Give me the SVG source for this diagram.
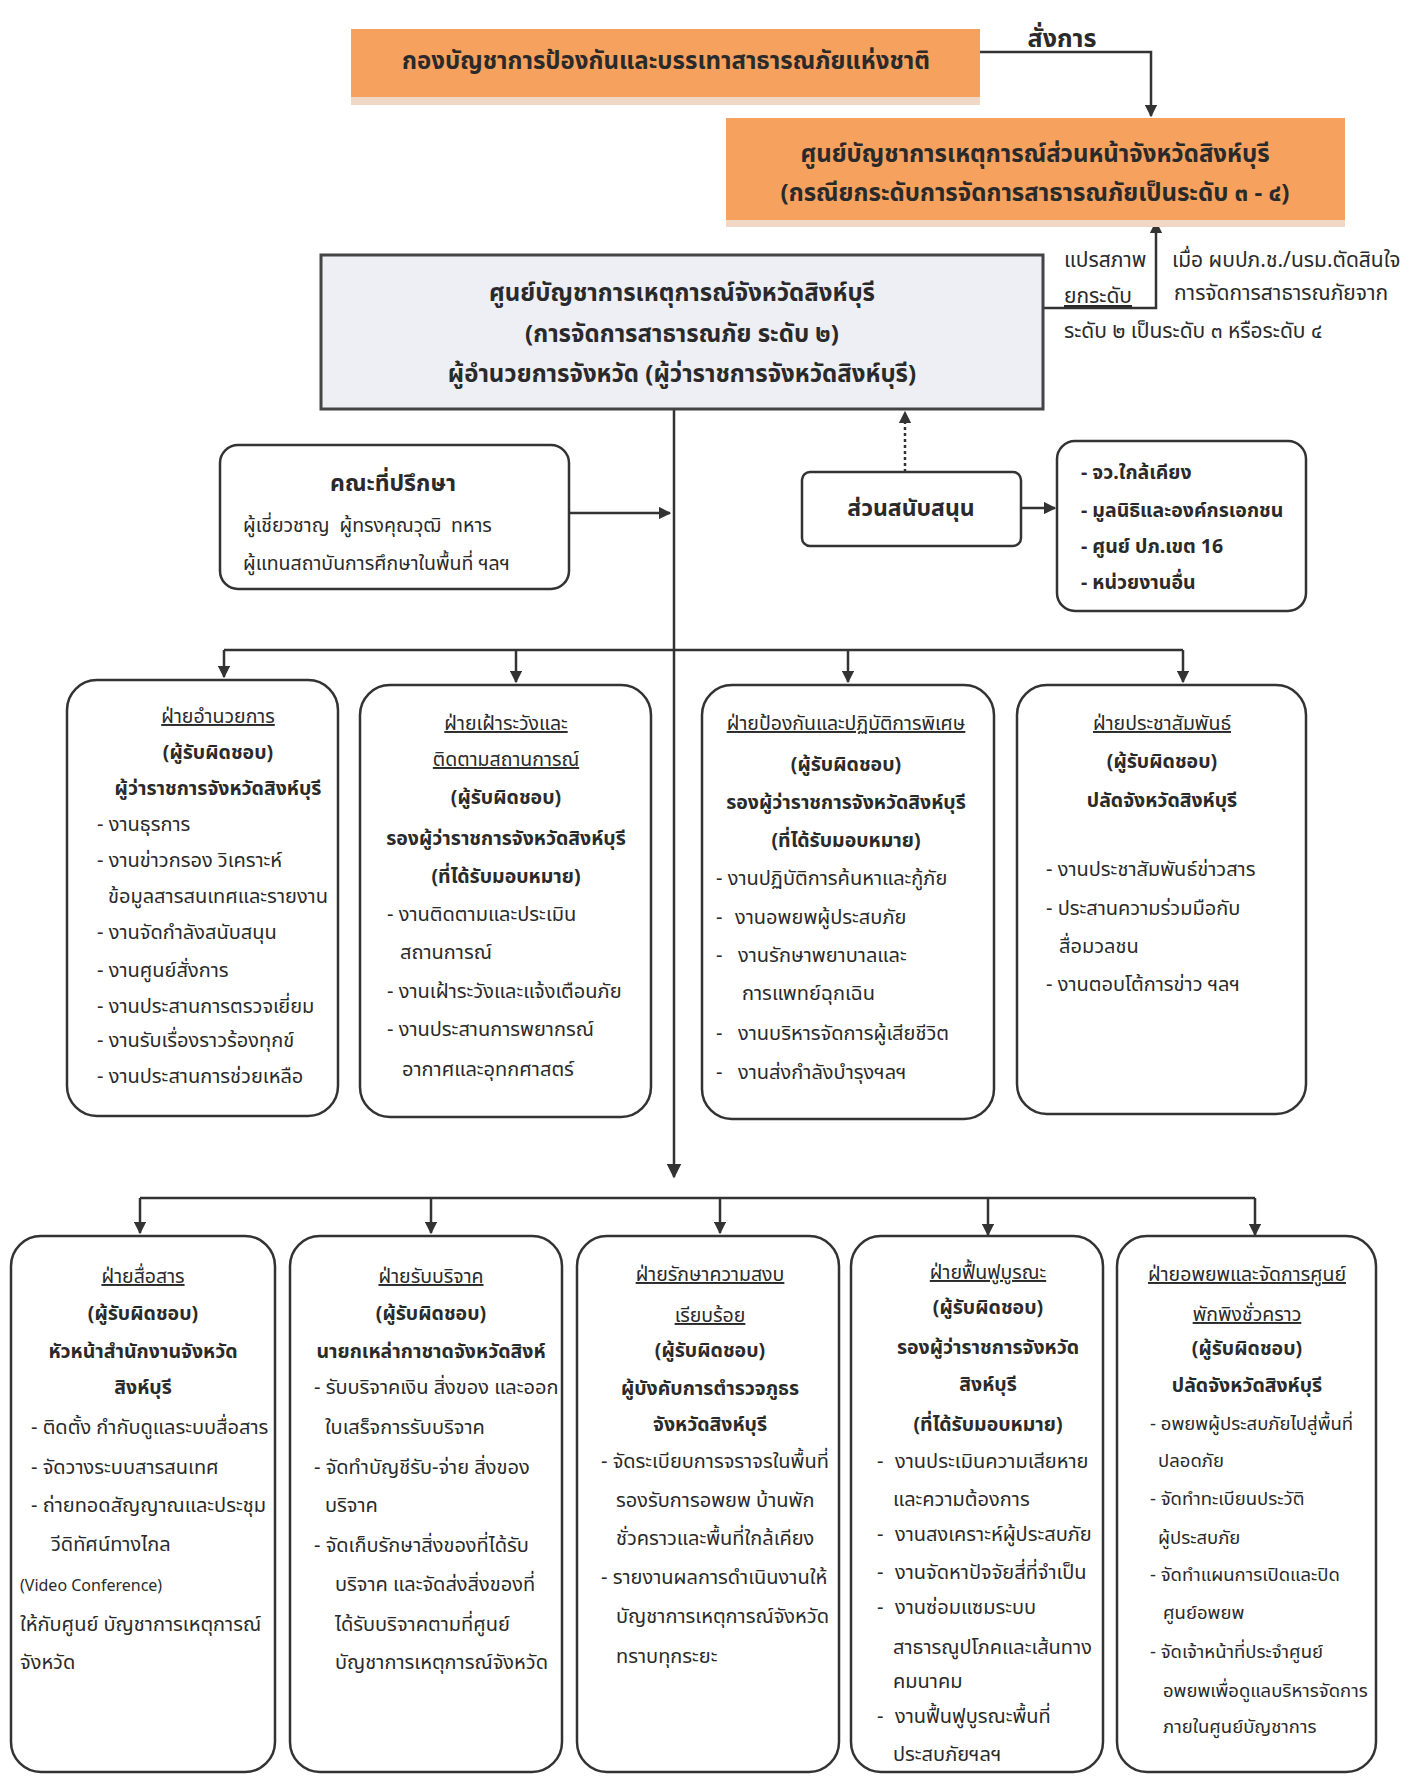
<svg xmlns="http://www.w3.org/2000/svg" width="1409" height="1778" viewBox="0 0 1409 1778">
<defs>
<style>
text{font-family:"Noto Sans Thai","Noto Sans","DejaVu Sans",sans-serif;fill:#2a2a2a;font-size:20px}
.c{text-anchor:middle}
.b{font-weight:bold;font-size:19.5px}
.u{text-decoration:underline;font-size:19.5px}
.h1{font-size:24px;font-weight:bold}
.h2{font-size:24px;font-weight:bold}
.lb{font-size:21px}
.s5{font-size:18.5px}
.pre{white-space:pre}
.box{fill:#fff;stroke:#333;stroke-width:2.5}
.or{fill:#f6a15e}
.sh{fill:#f1d8c6}
.ln{fill:none;stroke:#333;stroke-width:2.5}
</style>
<marker id="ah" viewBox="0 0 10 10" refX="9" refY="5" markerWidth="5" markerHeight="5" orient="auto"><path d="M0,0 L10,5 L0,10 z" fill="#333"/></marker>
<marker id="ahb" viewBox="0 0 10 10" refX="9" refY="5" markerWidth="6" markerHeight="6" orient="auto"><path d="M0,0 L10,5 L0,10 z" fill="#333"/></marker>
</defs>
<rect width="1409" height="1778" fill="#fff"/>

<g id="connectors">
<path class="ln" d="M980,52 H1151 V116" marker-end="url(#ah)"/>
<path class="ln" d="M1043,308 H1156 V222" marker-end="url(#ah)"/>
<path class="ln" d="M674,409 V1177" marker-end="url(#ahb)"/>
<path class="ln" d="M569,513 H670" marker-end="url(#ah)"/>
<path class="ln" d="M905,472 V412" stroke-dasharray="3,3" stroke-width="3" marker-end="url(#ah)"/>
<path class="ln" d="M1021,508 H1055" marker-end="url(#ah)"/>
<path class="ln" d="M224,650 H1183"/>
<path class="ln" d="M224,650 V677" marker-end="url(#ah)"/>
<path class="ln" d="M516,650 V682" marker-end="url(#ah)"/>
<path class="ln" d="M848,650 V682" marker-end="url(#ah)"/>
<path class="ln" d="M1183,650 V682" marker-end="url(#ah)"/>
<path class="ln" d="M140,1198 H1255"/>
<path class="ln" d="M140,1198 V1233" marker-end="url(#ah)"/>
<path class="ln" d="M431,1198 V1233" marker-end="url(#ah)"/>
<path class="ln" d="M720,1198 V1233" marker-end="url(#ah)"/>
<path class="ln" d="M988,1198 V1235" marker-end="url(#ah)"/>
<path class="ln" d="M1255,1198 V1235" marker-end="url(#ah)"/>
<text class="c" x="1062" y="47" style="font-size:25px;font-weight:bold">สั่งการ</text>
<text class="lb" x="1064" y="267">แปรสภาพ</text>
<text class="lb" x="1064" y="303" text-decoration="underline">ยกระดับ</text>
<text class="lb" x="1172" y="267">เมื่อ ผบปภ.ช./นรม.ตัดสินใจ</text>
<text class="lb" x="1174" y="300">การจัดการสาธารณภัยจาก</text>
<text class="lb" x="1064" y="338">ระดับ ๒ เป็นระดับ ๓ หรือระดับ ๔</text>
</g>

<g id="n-national">
<rect class="sh" x="351" y="95" width="629" height="10"/>
<rect class="or" x="351" y="29" width="629" height="68"/>
<text class="h1 c" x="666" y="69">กองบัญชาการป้องกันและบรรเทาสาธารณภัยแห่งชาติ</text>
</g>

<g id="n-forward">
<rect class="sh" x="726" y="218" width="619" height="9"/>
<rect class="or" x="726" y="118" width="619" height="102"/>
<text class="h1 c" x="1035" y="162">ศูนย์บัญชาการเหตุการณ์ส่วนหน้าจังหวัดสิงห์บุรี</text>
<text class="h1 c" x="1035" y="201">(กรณียกระดับการจัดการสาธารณภัยเป็นระดับ ๓ - ๔)</text>
</g>

<g id="n-main">
<rect x="321" y="255" width="722" height="154" fill="#eeeef5" stroke="#444" stroke-width="3"/>
<text class="h2 c" x="682" y="301">ศูนย์บัญชาการเหตุการณ์จังหวัดสิงห์บุรี</text>
<text class="h2 c" x="682" y="342">(การจัดการสาธารณภัย ระดับ ๒)</text>
<text class="h2 c" x="682" y="382">ผู้อำนวยการจังหวัด (ผู้ว่าราชการจังหวัดสิงห์บุรี)</text>
</g>

<g id="n-advisor">
<rect class="box" x="220" y="445" width="349" height="144" rx="18"/>
<text class="c" x="393" y="491" style="font-size:23px;font-weight:bold">คณะที่ปรึกษา</text>
<text class="pre" x="243" y="532" style="font-size:19.5px">ผู้เชี่ยวชาญ  ผู้ทรงคุณวุฒิ  ทหาร</text>
<text x="243" y="570" style="font-size:19.5px">ผู้แทนสถาบันการศึกษาในพื้นที่ ฯลฯ</text>
</g>

<g id="n-support">
<rect class="box" x="802" y="472" width="219" height="74" rx="8"/>
<text class="c" x="911" y="516" style="font-size:23px;font-weight:bold">ส่วนสนับสนุน</text>
</g>

<g id="n-support-list">
<rect class="box" x="1057" y="441" width="249" height="170" rx="18"/>
<text class="b" x="1081" y="479">- จว.ใกล้เคียง</text>
<text class="b" x="1081" y="517">- มูลนิธิและองค์กรเอกชน</text>
<text class="b" x="1081" y="553">- ศูนย์ ปภ.เขต 16</text>
<text class="b" x="1081" y="589">- หน่วยงานอื่น</text>
</g>

<g id="n-admin">
<rect class="box" x="67" y="680" width="271" height="436" rx="30"/>
<text class="c u" x="218" y="723">ฝ่ายอำนวยการ</text>
<text class="c b" x="218" y="759">(ผู้รับผิดชอบ)</text>
<text class="c b" x="218" y="795">ผู้ว่าราชการจังหวัดสิงห์บุรี</text>
<text x="97" y="831">- งานธุรการ</text>
<text x="97" y="867">- งานข่าวกรอง วิเคราะห์</text>
<text x="108" y="903">ข้อมูลสารสนเทศและรายงาน</text>
<text x="97" y="939">- งานจัดกำลังสนับสนุน</text>
<text x="97" y="977">- งานศูนย์สั่งการ</text>
<text x="97" y="1013">- งานประสานการตรวจเยี่ยม</text>
<text x="97" y="1047">- งานรับเรื่องราวร้องทุกข์</text>
<text x="97" y="1083">- งานประสานการช่วยเหลือ</text>
</g>

<g id="n-watch">
<rect class="box" x="360" y="685" width="291" height="432" rx="30"/>
<text class="c u" x="506" y="730">ฝ่ายเฝ้าระวังและ</text>
<text class="c u" x="506" y="766">ติดตามสถานการณ์</text>
<text class="c b" x="506" y="804">(ผู้รับผิดชอบ)</text>
<text class="c b" x="506" y="845">รองผู้ว่าราชการจังหวัดสิงห์บุรี</text>
<text class="c b" x="506" y="883">(ที่ได้รับมอบหมาย)</text>
<text x="387" y="921">- งานติดตามและประเมิน</text>
<text x="400" y="959">สถานการณ์</text>
<text x="387" y="998">- งานเฝ้าระวังและแจ้งเตือนภัย</text>
<text x="387" y="1036">- งานประสานการพยากรณ์</text>
<text x="402" y="1076">อากาศและอุทกศาสตร์</text>
</g>

<g id="n-protect">
<rect class="box" x="702" y="685" width="292" height="434" rx="30"/>
<text class="c u" x="846" y="730">ฝ่ายป้องกันและปฏิบัติการพิเศษ</text>
<text class="c b" x="846" y="771">(ผู้รับผิดชอบ)</text>
<text class="c b" x="846" y="809">รองผู้ว่าราชการจังหวัดสิงห์บุรี</text>
<text class="c b" x="846" y="847">(ที่ได้รับมอบหมาย)</text>
<text x="716" y="885">- งานปฏิบัติการค้นหาและกู้ภัย</text>
<text x="716" y="924">-</text><text x="735" y="924">งานอพยพผู้ประสบภัย</text>
<text x="716" y="962">-</text><text x="738" y="962">งานรักษาพยาบาลและ</text>
<text x="742" y="1000">การแพทย์ฉุกเฉิน</text>
<text x="716" y="1040">-</text><text x="738" y="1040">งานบริหารจัดการผู้เสียชีวิต</text>
<text x="716" y="1079">-</text><text x="738" y="1079">งานส่งกำลังบำรุงฯลฯ</text>
</g>

<g id="n-pr">
<rect class="box" x="1017" y="685" width="289" height="429" rx="30"/>
<text class="c u" x="1162" y="730">ฝ่ายประชาสัมพันธ์</text>
<text class="c b" x="1162" y="768">(ผู้รับผิดชอบ)</text>
<text class="c b" x="1162" y="807">ปลัดจังหวัดสิงห์บุรี</text>
<text x="1046" y="876">- งานประชาสัมพันธ์ข่าวสาร</text>
<text x="1046" y="915">- ประสานความร่วมมือกับ</text>
<text x="1059" y="953">สื่อมวลชน</text>
<text x="1046" y="991">- งานตอบโต้การข่าว ฯลฯ</text>
</g>

<g id="n-comm">
<rect class="box" x="11" y="1236" width="264" height="536" rx="30"/>
<text class="c u" x="143" y="1283">ฝ่ายสื่อสาร</text>
<text class="c b" x="143" y="1320">(ผู้รับผิดชอบ)</text>
<text class="c b" x="143" y="1358">หัวหน้าสำนักงานจังหวัด</text>
<text class="c b" x="143" y="1394">สิงห์บุรี</text>
<text x="31" y="1434">- ติดตั้ง กำกับดูแลระบบสื่อสาร</text>
<text x="31" y="1474">- จัดวางระบบสารสนเทศ</text>
<text x="31" y="1512">- ถ่ายทอดสัญญาณและประชุม</text>
<text x="51" y="1551">วีดิทัศน์ทางไกล</text>
<text x="20" y="1591" style="font-size:16px">(Video Conference)</text>
<text x="20" y="1631">ให้กับศูนย์ บัญชาการเหตุการณ์</text>
<text x="20" y="1669">จังหวัด</text>
</g>

<g id="n-donate">
<rect class="box" x="290" y="1236" width="272" height="536" rx="30"/>
<text class="c u" x="431" y="1283">ฝ่ายรับบริจาค</text>
<text class="c b" x="431" y="1320">(ผู้รับผิดชอบ)</text>
<text class="c b" x="431" y="1358">นายกเหล่ากาชาดจังหวัดสิงห์</text>
<text x="314" y="1394">- รับบริจาคเงิน สิ่งของ และออก</text>
<text x="325" y="1434">ใบเสร็จการรับบริจาค</text>
<text x="314" y="1474">- จัดทำบัญชีรับ-จ่าย สิ่งของ</text>
<text x="325" y="1512">บริจาค</text>
<text x="314" y="1552">- จัดเก็บรักษาสิ่งของที่ได้รับ</text>
<text x="335" y="1591">บริจาค และจัดส่งสิ่งของที่</text>
<text x="335" y="1631">ได้รับบริจาคตามที่ศูนย์</text>
<text x="335" y="1669">บัญชาการเหตุการณ์จังหวัด</text>
</g>

<g id="n-order">
<rect class="box" x="577" y="1236" width="262" height="536" rx="30"/>
<text class="c u" x="710" y="1281">ฝ่ายรักษาความสงบ</text>
<text class="c u" x="710" y="1322">เรียบร้อย</text>
<text class="c b" x="710" y="1357">(ผู้รับผิดชอบ)</text>
<text class="c b" x="710" y="1395">ผู้บังคับการตำรวจภูธร</text>
<text class="c b" x="710" y="1431">จังหวัดสิงห์บุรี</text>
<text x="601" y="1468">- จัดระเบียบการจราจรในพื้นที่</text>
<text x="616" y="1507">รองรับการอพยพ บ้านพัก</text>
<text x="616" y="1545">ชั่วคราวและพื้นที่ใกล้เคียง</text>
<text x="601" y="1584">- รายงานผลการดำเนินงานให้</text>
<text x="616" y="1623">บัญชาการเหตุการณ์จังหวัด</text>
<text x="616" y="1663">ทราบทุกระยะ</text>
</g>

<g id="n-restore">
<rect class="box" x="851" y="1236" width="252" height="536" rx="30"/>
<text class="c u" x="988" y="1279">ฝ่ายฟื้นฟูบูรณะ</text>
<text class="c b" x="988" y="1314">(ผู้รับผิดชอบ)</text>
<text class="c b" x="988" y="1354">รองผู้ว่าราชการจังหวัด</text>
<text class="c b" x="988" y="1391">สิงห์บุรี</text>
<text class="c b" x="988" y="1431">(ที่ได้รับมอบหมาย)</text>
<text x="877" y="1468">-</text><text x="895" y="1468">งานประเมินความเสียหาย</text>
<text x="893" y="1506">และความต้องการ</text>
<text x="877" y="1541">-</text><text x="895" y="1541">งานสงเคราะห์ผู้ประสบภัย</text>
<text x="877" y="1579">-</text><text x="895" y="1579">งานจัดหาปัจจัยสี่ที่จำเป็น</text>
<text x="877" y="1614">-</text><text x="895" y="1614">งานซ่อมแซมระบบ</text>
<text x="893" y="1654">สาธารณูปโภคและเส้นทาง</text>
<text x="893" y="1688">คมนาคม</text>
<text x="877" y="1723">-</text><text x="895" y="1723">งานฟื้นฟูบูรณะพื้นที่</text>
<text x="893" y="1761">ประสบภัยฯลฯ</text>
</g>

<g id="n-evac">
<rect class="box" x="1117" y="1236" width="259" height="536" rx="30"/>
<text class="c u" x="1247" y="1281">ฝ่ายอพยพและจัดการศูนย์</text>
<text class="c u" x="1247" y="1321">พักพิงชั่วคราว</text>
<text class="c b" x="1247" y="1355">(ผู้รับผิดชอบ)</text>
<text class="c b" x="1247" y="1392">ปลัดจังหวัดสิงห์บุรี</text>
<text class="s5" x="1150" y="1430">- อพยพผู้ประสบภัยไปสู่พื้นที่</text>
<text class="s5" x="1158" y="1467">ปลอดภัย</text>
<text class="s5" x="1150" y="1505">- จัดทำทะเบียนประวัติ</text>
<text class="s5" x="1158" y="1544">ผู้ประสบภัย</text>
<text class="s5" x="1150" y="1581">- จัดทำแผนการเปิดและปิด</text>
<text class="s5" x="1163" y="1619">ศูนย์อพยพ</text>
<text class="s5" x="1150" y="1658">- จัดเจ้าหน้าที่ประจำศูนย์</text>
<text class="s5" x="1163" y="1697">อพยพเพื่อดูแลบริหารจัดการ</text>
<text class="s5" x="1163" y="1733">ภายในศูนย์บัญชาการ</text>
</g>
</svg>
